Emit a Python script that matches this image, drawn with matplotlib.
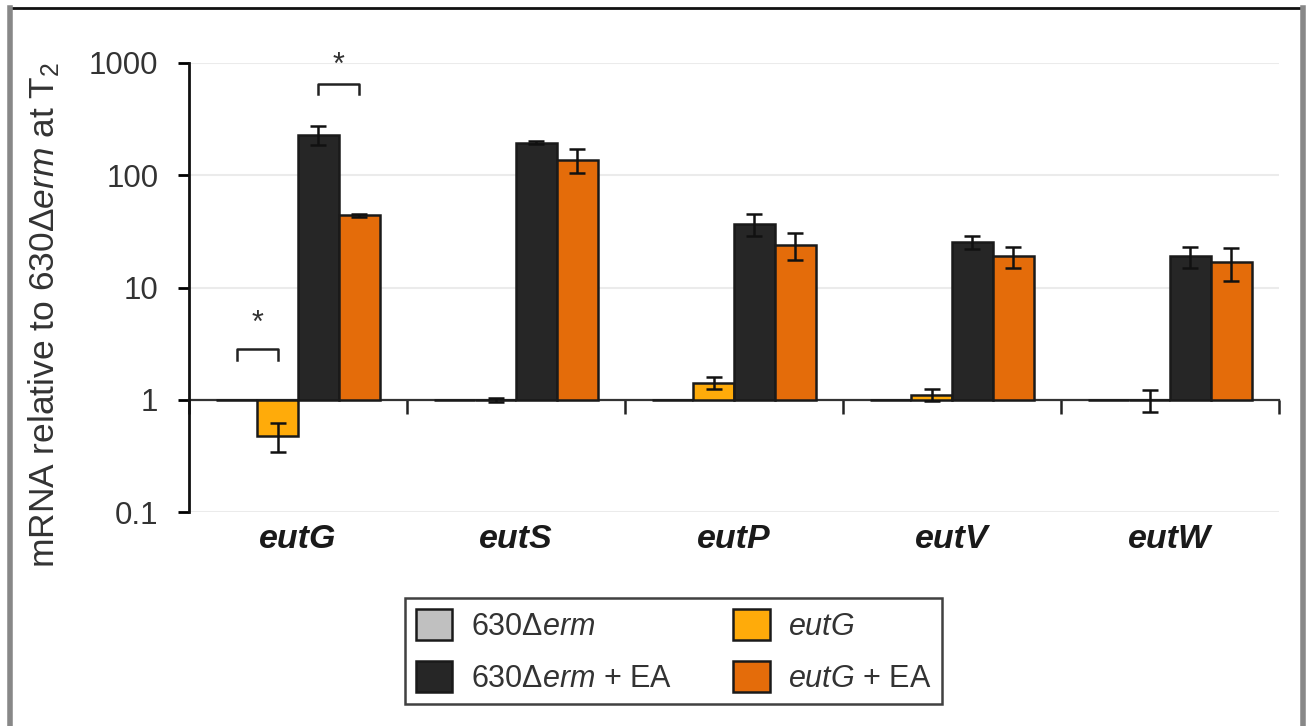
import matplotlib
matplotlib.use('Agg')
import matplotlib.pyplot as plt
from matplotlib.patches import Patch
from matplotlib.lines import Line2D
import numpy as np

plt.rcParams['font.family'] = ['Liberation Sans', 'DejaVu Sans']
plt.rcParams['mathtext.fontset'] = 'custom'
plt.rcParams['mathtext.rm'] = 'Liberation Sans'
plt.rcParams['mathtext.it'] = 'Liberation Sans:italic'
plt.rcParams['mathtext.bf'] = 'Liberation Sans:bold'

genes = ['eutG', 'eutS', 'eutP', 'eutV', 'eutW']
strains = ['630$\\mathit{Δerm}$', '$\\mathit{eutG}$',
           '630$\\mathit{Δerm}$ + EA', '$\\mathit{eutG}$ + EA']

# relative mRNA levels (fold vs. 630Δerm at T2) and SD
wt = [1.0, 1.0, 1.0, 1.0, 1.0]
wt_err = [0.0, 0.0, 0.0, 0.0, 0.0]
mut = [0.48, 1.0, 1.41, 1.11, 1.0]
mut_err = [0.14, 0.04, 0.17, 0.13, 0.22]
wt_ea = [230, 195, 37, 25.5, 19]
wt_ea_err = [43, 5, 8.5, 3.5, 4]
mut_ea = [44, 138, 24, 19, 17]
mut_ea_err = [1.5, 33, 6.5, 4, 5.5]

colors = ['#c0c0c0', '#ffab0a', '#262626', '#e46c0a']
values = [wt, mut, wt_ea, mut_ea]
errors = [wt_err, mut_err, wt_ea_err, mut_ea_err]

fig = plt.figure(figsize=(13.11, 7.26), dpi=100)
ax = fig.add_axes([189 / 1311, 1 - 512 / 726, 1090 / 1311, 449 / 726])

x = np.arange(len(genes))
width = 0.188
offsets = (np.arange(4) - 1.5) * width

ax.set_yscale('log')
ax.set_ylim(0.1, 1000)
ax.set_xlim(-0.5, len(genes) - 0.5)

for v in [0.1, 10, 100, 1000]:
    ax.axhline(v, color='#ebebeb', lw=1.5, zorder=0)

for vals, errs, col, off in zip(values, errors, colors, offsets):
    vals = np.array(vals)
    ax.bar(x + off, vals - 1, bottom=1, width=width, color=col,
           edgecolor='#1a1a1a', linewidth=1.8, zorder=3)
    errs = np.array(errs)
    m = errs > 0
    ax.errorbar(x[m] + off, vals[m], yerr=errs[m], fmt='none',
                ecolor='#111111', elinewidth=1.8, capsize=6, capthick=1.8,
                zorder=4)

# significance brackets
def bracket(x0, x1, y, ylow, ystar):
    ax.add_line(Line2D([x0, x0, x1, x1], [ylow, y, y, ylow],
                       color='#222222', lw=1.8, clip_on=False, zorder=5))
    ax.text((x0 + x1) / 2, ystar, '*', ha='center', va='center',
            fontsize=22, color='#333333', clip_on=False)

bracket(x[0] + offsets[0], x[0] + offsets[1], 2.82, 2.25, 4.7)
bracket(x[0] + offsets[2], x[0] + offsets[3], 646, 527, 950)

# axes styling
for s in ['top', 'right']:
    ax.spines[s].set_visible(False)
ax.spines['left'].set_linewidth(2)
ax.spines['left'].set_color('#111111')
ax.spines['bottom'].set_position(('data', 1))
ax.spines['bottom'].set_linewidth(1.6)
ax.spines['bottom'].set_color('#333333')
ax.spines['bottom'].set_zorder(2)

ax.set_yticks([0.1, 1, 10, 100, 1000])
ax.set_yticklabels(['0.1', '1', '10', '100', '1000'])
ax.yaxis.set_minor_locator(matplotlib.ticker.NullLocator())
ax.tick_params(axis='y', direction='out', length=8, width=2,
               labelsize=22.5, pad=14, labelcolor='#333333')

ax.set_xticks(np.arange(len(genes) + 1) - 0.5)
ax.set_xticklabels([])
ax.tick_params(axis='x', direction='out', length=10, width=1.8,
               color='#222222')

for xi, g in zip(x, genes):
    ax.text(xi, -0.062, g, transform=ax.get_xaxis_transform(),
            ha='center', va='center', fontsize=24.5, fontweight='bold',
            style='italic', color='#1a1a1a')

fig.text(44 / 1311, 1 - 315 / 726,
         'mRNA relative to 630$\\mathit{Δerm}$ at T$_2$',
         rotation=90, ha='center', va='center', fontsize=25.5,
         color='#333333')

# legend rows: wild type on the left, mutant on the right
order = [0, 2, 1, 3]
handles = [Patch(facecolor=colors[i], edgecolor='#1a1a1a', linewidth=1.8)
           for i in order]
labels = [strains[i] for i in order]
leg = fig.legend(handles, labels, ncol=2, loc='upper left',
                 bbox_to_anchor=(405 / 1311, 1 - 598 / 726),
                 fontsize=22, frameon=True, fancybox=False,
                 edgecolor='#111111', handlelength=1.2, handleheight=1.2,
                 handletextpad=0.6, columnspacing=2.0, labelspacing=0.62,
                 borderpad=0.35, borderaxespad=0)
leg.get_frame().set_linewidth(1.8)
for t in leg.get_texts():
    t.set_color('#333333')

# outer panel frame
fig.add_artist(Line2D([12 / 1311, 1303 / 1311], [1 - 8 / 726] * 2,
                      color='#111111', lw=2))
fig.add_artist(Line2D([10 / 1311] * 2, [0, 1 - 8 / 726],
                      color='#888888', lw=4))
fig.add_artist(Line2D([1303 / 1311] * 2, [0, 1 - 8 / 726],
                      color='#888888', lw=4))

fig.savefig('out.png', dpi=100)
